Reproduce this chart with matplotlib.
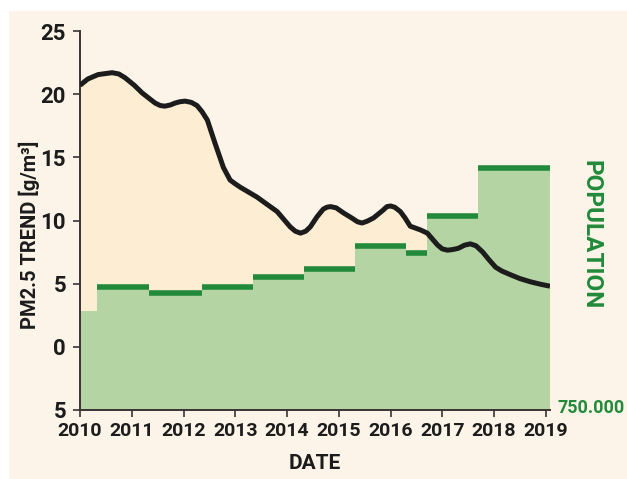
import matplotlib
matplotlib.use("Agg")
import matplotlib.pyplot as plt
from matplotlib.patches import Rectangle

plt.rcParams['font.family'] = ['Roboto', 'DejaVu Sans']

# PM2.5 trend (year, g/m3)
years = [2010.00, 2010.15, 2010.35, 2010.62, 2010.75, 2010.87, 2011.05, 2011.20,
         2011.45, 2011.55, 2011.64, 2011.75, 2011.84, 2011.93, 2012.03, 2012.15,
         2012.26, 2012.36, 2012.46, 2012.61, 2012.77, 2012.90, 2013.00, 2013.09,
         2013.42, 2013.81, 2014.06, 2014.16, 2014.26, 2014.36, 2014.45, 2014.58,
         2014.70, 2014.77, 2014.84, 2014.95, 2015.09, 2015.25, 2015.36, 2015.45,
         2015.55, 2015.67, 2015.85, 2015.93, 2016.00, 2016.08, 2016.19, 2016.28,
         2016.38, 2016.58, 2016.71, 2016.91, 2017.00, 2017.10, 2017.20, 2017.31,
         2017.43, 2017.54, 2017.65, 2017.78, 2017.90, 2018.03, 2018.15, 2018.32,
         2018.50, 2018.70, 2018.90, 2019.08]
pm25 = [20.7, 21.2, 21.55, 21.7, 21.6, 21.3, 20.7, 20.1,
        19.3, 19.1, 19.05, 19.15, 19.3, 19.4, 19.45, 19.35,
        19.1, 18.6, 17.95, 16.1, 14.2, 13.2, 12.9, 12.65,
        11.85, 10.7, 9.5, 9.15, 9.0, 9.15, 9.5, 10.3,
        10.9, 11.05, 11.1, 11.0, 10.6, 10.2, 9.9, 9.8,
        9.95, 10.2, 10.8, 11.1, 11.15, 11.05, 10.7, 10.2,
        9.55, 9.25, 9.0, 8.05, 7.75, 7.65, 7.7, 7.8,
        8.05, 8.15, 8.0, 7.5, 6.9, 6.3, 6.0, 5.7,
        5.4, 5.15, 4.95, 4.8]

# population steps (on the same scale)
step_edges = [2010, 2010.33, 2011.33, 2012.36, 2013.35, 2014.33, 2015.32,
              2016.29, 2016.71, 2017.68, 2019.08]
population = [2.8, 4.75, 4.25, 4.75, 5.5, 6.15, 8.0, 7.45, 10.35, 14.15]

x_ticks = list(range(2010, 2020))
y_ticks = [25, 20, 15, 10, 5, 0, -5]
y_labels = ['25', '20', '15', '10', '5', '0', '5']

bg = '#FCF4E8'
cream = '#FDEED3'
light_green = '#B4D4A4'
dark_green = '#228A3A'
ink = '#1c1c1c'

fig = plt.figure(figsize=(6.27, 4.79), dpi=100, facecolor='white')
fig.patches.append(Rectangle((9 / 627, 0), 1, 1 - 11 / 479, transform=fig.transFigure,
                             facecolor=bg, edgecolor='none', zorder=-1))

ax = fig.add_axes([80 / 627, 1 - 410 / 479, 470 / 627, 379 / 479])
ax.patch.set_alpha(0)

ax.fill_between(years, pm25, -5, color=cream, lw=0, zorder=1)
ax.fill_between(step_edges, population + [population[-1]], -5, step='post',
                color=light_green, lw=0, zorder=2)
ax.hlines(population[1:], step_edges[1:-1], step_edges[2:], colors=dark_green,
          linewidth=4, zorder=3)
ax.plot(years, pm25, color=ink, lw=3.6, solid_joinstyle='round',
        solid_capstyle='butt', zorder=4)

ax.set_xlim(2010, 2019.08)
ax.set_ylim(-5, 25)
ax.set_xticks(x_ticks)
ax.set_xticklabels([str(x) for x in x_ticks], fontsize=14, fontweight='bold', color=ink)
ax.set_yticks(y_ticks)
ax.set_yticklabels(y_labels, fontsize=16, fontweight='bold', color=ink)

for s in ['top', 'right']:
    ax.spines[s].set_visible(False)
for s in ['left', 'bottom']:
    ax.spines[s].set_color('#3a3333')
    ax.spines[s].set_linewidth(1.4)
ax.tick_params(axis='both', direction='out', length=5, width=1.2, color='#3a3333')
ax.tick_params(axis='x', pad=4)
ax.tick_params(axis='y', pad=5)

ax.set_xlabel('DATE', fontsize=15, fontweight='bold', color=ink, labelpad=10)
fig.text(29 / 627, 1 - 235 / 479, 'PM2.5 TREND [g/m³]', rotation=90, fontsize=14.5,
         fontweight='bold', color=ink, ha='center', va='center')
fig.text(591 / 627, 1 - 235 / 479, 'POPULATION', rotation=-90, fontsize=17.5,
         fontweight='bold', color=dark_green, ha='center', va='center')
fig.text(557 / 627, 1 - 408 / 479, '750.000', fontsize=13, fontweight='bold',
         color=dark_green, ha='left', va='center')

fig.savefig('out.png', dpi=100, facecolor=fig.get_facecolor())
